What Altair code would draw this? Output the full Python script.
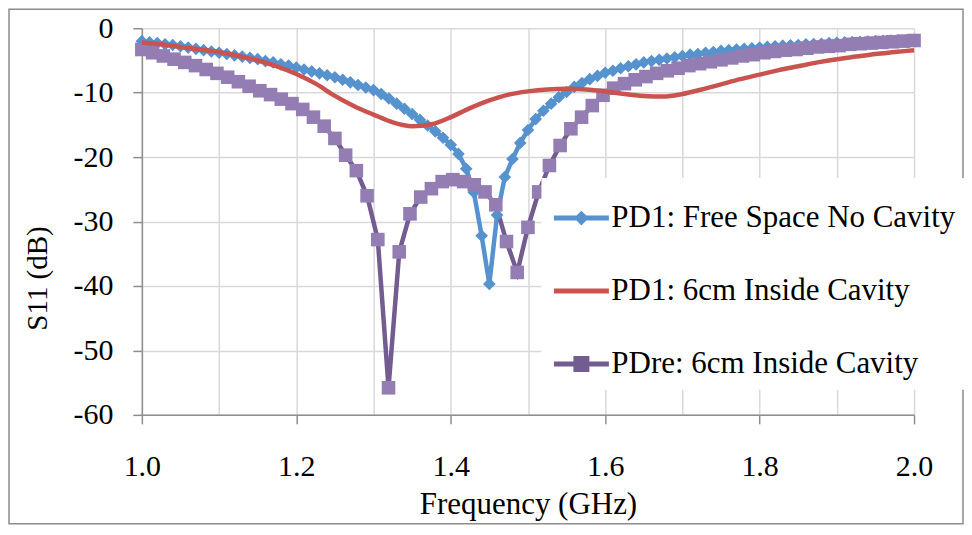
import altair as alt
import pandas as pd

series_names = ["PD1: Free Space No Cavity", "PD1: 6cm Inside Cavity", "PDre: 6cm Inside Cavity"]

# PD1 free space: sweep 1.00 .. 2.00 GHz, 0.01 GHz step
blue_s11 = [
    -2.0, -2.2, -2.3, -2.5, -2.6, -2.8, -3.0, -3.2, -3.4, -3.6,
    -3.8, -4.0, -4.2, -4.4, -4.6, -4.8, -5.1, -5.3, -5.6, -5.8,
    -6.1, -6.4, -6.7, -7.0, -7.3, -7.6, -8.0, -8.4, -8.8, -9.2,
    -9.6, -10.2, -10.9, -11.7, -12.5, -13.3, -14.2, -15.1, -16.0, -17.0,
    -18.1, -19.5, -21.8, -25.5, -32.2, -39.7, -29.0, -23.1, -20.3, -17.8,
    -15.8, -14.1, -12.8, -11.7, -10.7, -9.9, -9.1, -8.5, -7.9, -7.4,
    -6.9, -6.6, -6.2, -5.9, -5.6, -5.3, -5.1, -4.9, -4.7, -4.5,
    -4.3, -4.1, -4.0, -3.8, -3.7, -3.5, -3.4, -3.3, -3.2, -3.1,
    -3.0, -2.9, -2.8, -2.7, -2.65, -2.6, -2.5, -2.45, -2.4, -2.3,
    -2.25, -2.2, -2.15, -2.1, -2.05, -2.0, -1.97, -1.93, -1.9, -1.87,
    -1.85,
]

# PD1 inside cavity (smooth line, no markers)
red_freq = [
    1.000, 1.025, 1.050, 1.075, 1.100, 1.125, 1.150, 1.175, 1.200, 1.225,
    1.250, 1.275, 1.300, 1.325, 1.350, 1.375, 1.400, 1.425, 1.450, 1.475,
    1.500, 1.525, 1.550, 1.575, 1.600, 1.625, 1.650, 1.675, 1.700, 1.725,
    1.750, 1.775, 1.800, 1.825, 1.850, 1.875, 1.900, 1.925, 1.950, 1.975,
    2.000,
]
red_s11 = [
    -2.2, -2.5, -2.9, -3.3, -3.7, -4.3, -5.0, -5.9, -7.1, -8.6,
    -10.5, -12.1, -13.4, -14.6, -15.2, -14.9, -13.8, -12.4, -11.2, -10.3,
    -9.8, -9.5, -9.4, -9.5, -9.8, -10.2, -10.5, -10.6, -10.2, -9.5,
    -8.7, -7.9, -7.2, -6.5, -5.9, -5.3, -4.8, -4.4, -4.0, -3.7,
    -3.4,
]

# PDre inside cavity: 73-point sweep 1.0 .. 2.0 GHz
purple_s11 = [
    -3.3, -3.8, -4.3, -4.8, -5.3, -5.8, -6.4, -7.0, -7.6, -8.3,
    -9.0, -9.7, -10.3, -11.0, -11.7, -12.6, -13.8, -15.2, -17.1, -19.7,
    -22.1, -26.0, -32.8, -55.8, -34.7, -28.8, -26.2, -24.9, -23.8, -23.5,
    -23.8, -24.3, -25.4, -27.4, -33.1, -37.9, -30.9, -25.4, -21.3, -18.2,
    -15.6, -13.8, -12.0, -10.4, -9.3, -8.6, -8.0, -7.5, -7.0, -6.6,
    -6.2, -5.8, -5.5, -5.2, -4.9, -4.6, -4.3, -4.1, -3.8, -3.6,
    -3.4, -3.3, -3.1, -2.9, -2.8, -2.7, -2.5, -2.4, -2.3, -2.2,
    -2.1, -2.0, -1.9,
]

x_ticks = [1.0, 1.1, 1.2, 1.3, 1.4, 1.5, 1.6, 1.7, 1.8, 1.9, 2.0]
y_ticks = [-60, -50, -40, -30, -20, -10, 0]

blue_freq = [round(1 + i * 0.01, 4) for i in range(len(blue_s11))]
purple_freq = [round(1 + i / 72, 5) for i in range(len(purple_s11))]

df = pd.concat([
    pd.DataFrame({"series": series_names[0], "freq": blue_freq, "s11": blue_s11}),
    pd.DataFrame({"series": series_names[1], "freq": red_freq, "s11": red_s11}),
    pd.DataFrame({"series": series_names[2], "freq": purple_freq, "s11": purple_s11}),
], ignore_index=True)

BLUE = "#5692cd"
RED = "#c9534e"
PURPLE_LINE = "#735c90"
PURPLE_MARK = "#947db3"
FONT = "Liberation Serif"

line_paths = [
    "M-1,0L1,0M-0.14,0L0,-0.14L0.14,0L0,0.14Z",
    "M-1,0L1,0",
    "M-1,0L1,0M-0.2,-0.2L0.2,-0.2L0.2,0.2L-0.2,0.2ZM-0.1,-0.1L0.1,-0.1L0.1,0.1L-0.1,0.1Z",
]

color_scale = alt.Scale(domain=series_names, range=[BLUE, RED, PURPLE_LINE])
shape_scale = alt.Scale(domain=series_names, range=line_paths)

even = "round(datum.value * 10) % 2 == 0"

x_axis = alt.Axis(
    values=x_ticks, grid=True, gridColor="#d9d9d9", gridWidth=1.5,
    domainColor="#8e8e8e", domainWidth=1.5,
    tickColor={"condition": {"test": even, "value": "#8e8e8e"}, "value": "transparent"},
    tickWidth=1.5, tickSize=9,
    labelExpr=f"{even} ? format(datum.value, '.1f') : ''",
    labelFont=FONT, labelFontSize=30, labelColor="black", labelPadding=28,
    labelFlush=False, labelOverlap=False,
    titleFont=FONT, titleFontSize=31, titleFontWeight="normal", titleColor="black",
    titlePadding=8,
)
y_axis = alt.Axis(
    values=y_ticks, grid=True, gridColor="#d9d9d9", gridWidth=1.5,
    domainColor="#8e8e8e", domainWidth=1.5, tickColor="#8e8e8e", tickWidth=1.5,
    tickSize=9, labelExpr="toString(datum.value)",
    labelFont=FONT, labelFontSize=30, labelColor="black", labelPadding=20,
    titleFont=FONT, titleFontSize=29, titleFontWeight="normal", titleColor="black",
    titlePadding=20, titleY=250,
)

X = alt.X("freq:Q", scale=alt.Scale(domain=[1, 2], nice=False, zero=False),
          axis=x_axis, title="Frequency (GHz)")
Y = alt.Y("s11:Q", scale=alt.Scale(domain=[-60, 0], nice=False, zero=False),
          axis=y_axis, title="S11 (dB)")

leg = alt.Legend(
    orient="none", legendX=400, legendY=150,
    symbolSize=3025, symbolStrokeWidth=5, symbolOpacity=1,
    symbolFillColor="transparent",
    labelFont=FONT, labelFontSize=31, labelColor="black", labelOffset=0,
    labelLimit=600, rowPadding=28, padding=10, fillColor="white",
)

base = alt.Chart(df)

legend_layer = base.transform_filter("false").mark_point(filled=False, opacity=1).encode(
    x=X, y=Y,
    color=alt.Color("series:N", scale=color_scale, legend=leg, title=None),
    shape=alt.Shape("series:N", scale=shape_scale, legend=leg, title=None),
)

frame = alt.Chart(alt.Data(values=[{"a": 1}])).mark_rect(
    fillOpacity=0, stroke="#8c8c8c", strokeWidth=1.5
).encode(x=alt.value(-133), x2=alt.value(822), y=alt.value(-19), y2=alt.value(496))

lines_bp = base.transform_filter(
    alt.FieldOneOfPredicate(field="series", oneOf=[series_names[0], series_names[2]])
).mark_line(strokeWidth=4.5).encode(
    x=X, y=Y, color=alt.Color("series:N", scale=color_scale, legend=leg, title=None),
    detail="series:N",
)

blue_pts = base.transform_filter(alt.datum.series == series_names[0]).mark_point(
    shape="diamond", filled=True, size=160, color=BLUE, opacity=1
).encode(x=X, y=Y)

purple_pts = base.transform_filter(alt.datum.series == series_names[2]).mark_point(
    shape="square", filled=True, size=185, color=PURPLE_MARK, opacity=1
).encode(x=X, y=Y)

red_line = base.transform_filter(alt.datum.series == series_names[1]).mark_line(
    strokeWidth=4.5, interpolate="monotone"
).encode(x=X, y=Y, color=alt.Color("series:N", scale=color_scale, legend=leg, title=None))

chart = alt.layer(
    legend_layer, frame, lines_bp, blue_pts, purple_pts, red_line
).properties(
    width=773, height=387,
    padding={"left": 134, "top": 20, "right": 50, "bottom": 110},
    autosize=alt.AutoSizeParams(type="none"),
).configure(
    font=FONT, view=alt.ViewConfig(strokeWidth=0)
)

chart.save("out.html", embed_options={"renderer": "svg", "actions": False})
